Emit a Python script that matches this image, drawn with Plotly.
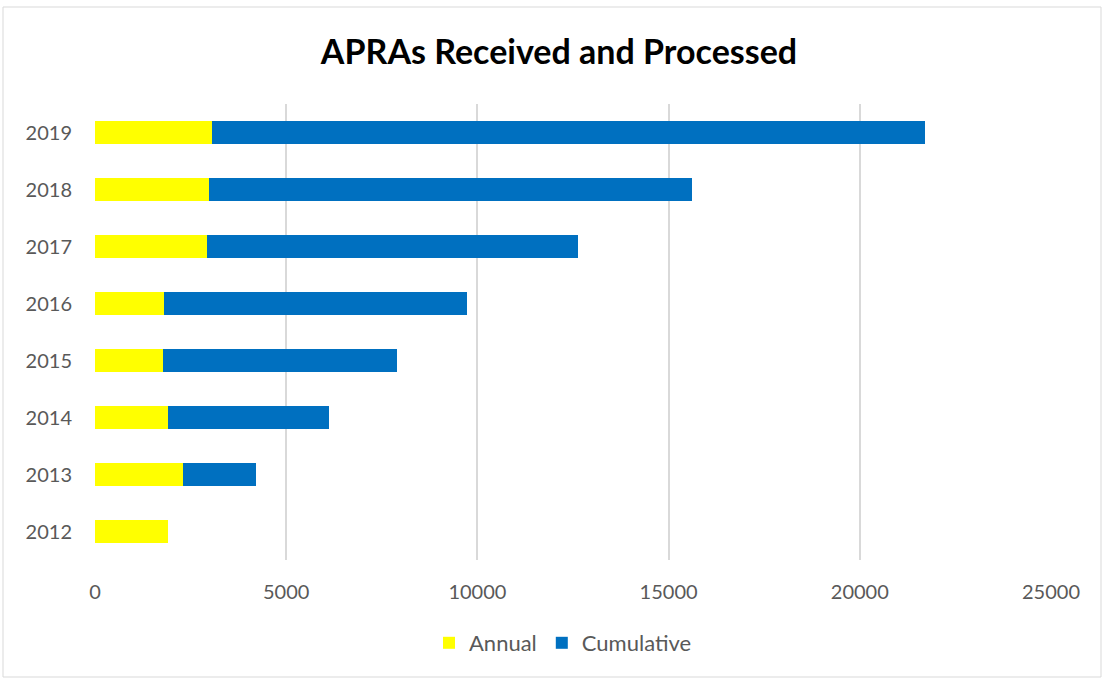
import plotly.graph_objects as go

years = ["2012", "2013", "2014", "2015", "2016", "2017", "2018", "2019"]
annual = [1908, 2308, 1908, 1786, 1812, 2920, 2980, 3050]
cumulative = [0, 1908, 4216, 6107, 7911, 9712, 12624, 18652]

x_ticks = [0, 5000, 10000, 15000, 20000, 25000]

FONT = "Lato"

fig = go.Figure()
fig.add_trace(go.Bar(y=years, x=annual, orientation="h", name="Annual",
                     marker=dict(color="#FFFF00", line=dict(width=0))))
fig.add_trace(go.Bar(y=years, x=cumulative, orientation="h", name="Cumulative",
                     marker=dict(color="#0070C0", line=dict(width=0))))

W, H = 1104, 680
ml, mr, mt, mb = 95, 53, 104, 120
pw, ph = W - ml - mr, H - mt - mb

def px_x(p):
    return (p - ml) / pw

def px_y(p):
    return (H - mb - p) / ph

fig.update_layout(
    width=W, height=H,
    margin=dict(l=ml, r=mr, t=mt, b=mb),
    barmode="stack",
    bargap=0.6,
    plot_bgcolor="white",
    paper_bgcolor="white",
    font=dict(family=FONT, color="#595959", size=20),
    title=dict(text="<b>APRAs Received and Processed</b>",
               x=559 / W, xanchor="center",
               y=1 - 52 / H, yanchor="middle",
               font=dict(family=FONT, size=34, color="#000000")),
    legend=dict(orientation="h", x=px_x(563), xanchor="center",
                y=px_y(643), yanchor="middle",
                font=dict(family=FONT, size=22, color="#595959"),
                itemwidth=30, traceorder="normal"),
    xaxis=dict(range=[0, 25000], tickvals=x_ticks,
               ticktext=[str(v) for v in x_ticks],
               showgrid=True, gridcolor="#D9D9D9", gridwidth=1.5,
               zeroline=False, showline=False,
               ticks="outside", ticklen=14, tickcolor="rgba(0,0,0,0)"),
    yaxis=dict(categoryorder="array", categoryarray=years,
               showgrid=False, zeroline=False, showline=False,
               ticks="outside", ticklen=18, tickcolor="rgba(0,0,0,0)"),
    shapes=[dict(type="rect", xref="paper", yref="paper",
                 x0=px_x(3), x1=px_x(1101), y0=px_y(677), y1=px_y(7),
                 line=dict(color="#D9D9D9", width=1), fillcolor="rgba(0,0,0,0)",
                 layer="below")],
)

fig.write_html("out.html")
